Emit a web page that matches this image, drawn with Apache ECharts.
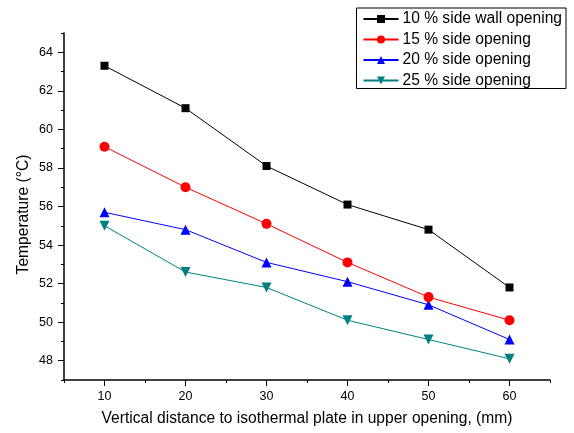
<!DOCTYPE html>
<html><head><meta charset="utf-8">
<script src="https://cdn.jsdelivr.net/npm/echarts@6/dist/echarts.min.js"></script>
<style>html,body{margin:0;padding:0;background:#fff}#c{width:574px;height:433px}</style>
</head><body><div id="c"></div>
<script>
const distances = [10, 20, 30, 40, 50, 60];
const seriesNames = ['10 % side wall opening', '15 % side opening', '20 % side opening', '25 % side opening'];
const open10 = [63.3, 61.1, 58.1, 56.1, 54.8, 51.8];
const open15 = [59.1, 57.0, 55.1, 53.1, 51.3, 50.1];
const open20 = [55.7, 54.8, 53.1, 52.1, 50.9, 49.1];
const open25 = [55.0, 52.6, 51.8, 50.1, 49.1, 48.1];
const xMajorTicks = [10, 20, 30, 40, 50, 60];
const yMajorTicks = [48, 50, 52, 54, 56, 58, 60, 62, 64];

const colors = ['#000000', '#ff0000', '#0000ff', '#008080'];
const symbols = ['rect', 'circle', 'triangle', 'path://M0,0 L10,0 L5,10 Z'];
const sizes = [8, 10, 10, 10];
const values = [open10, open15, open20, open25];
const font = 'Arial, "Liberation Sans", sans-serif';

const chart = echarts.init(document.getElementById('c'));
chart.setOption({
  animation: false,
  grid: { left: 64, top: 33, right: 24, bottom: 53 },
  legend: {
    orient: 'vertical', right: 8, top: 8,
    data: seriesNames,
    borderColor: '#000', borderWidth: 1, padding: [3, 4, 0, 6],
    itemWidth: 35, itemHeight: 10, itemGap: 4.5,
    textStyle: { fontFamily: font, fontSize: 15.6, color: '#000', padding: [0, 0, 0, -1] },
    backgroundColor: '#fff'
  },
  xAxis: [
    {
      type: 'value', min: 5, max: 65, interval: 5,
      name: 'Vertical distance to isothermal plate in upper opening, (mm)',
      nameLocation: 'middle', nameGap: 31,
      nameTextStyle: { fontFamily: font, fontSize: 15.6, color: '#000' },
      axisLine: { show: true, lineStyle: { color: '#000', width: 1.5 } },
      axisTick: { show: true, inside: false, length: 3, lineStyle: { color: '#000' } },
      axisLabel: { fontFamily: font, fontSize: 12.5, color: '#000', margin: 10,
        formatter: v => (v % 10 === 0 ? String(v) : '') },
      splitLine: { show: false }
    },
    {
      type: 'value', min: 5, max: 65, position: 'bottom',
      axisLine: { show: false },
      axisTick: { show: true, length: 6, customValues: xMajorTicks, lineStyle: { color: '#000' } },
      axisLabel: { show: false },
      splitLine: { show: false }
    }
  ],
  yAxis: [
    {
      type: 'value', min: 47, max: 65, interval: 1,
      name: 'Temperature (°C)',
      nameLocation: 'middle', nameGap: 32, nameMoveOverlap: false,
      nameTextStyle: { fontFamily: font, fontSize: 15.6, color: '#000', padding: [0, 16, 0, 0] },
      axisLine: { show: true, lineStyle: { color: '#000', width: 1.5 } },
      axisTick: { show: true, length: 3, lineStyle: { color: '#000' } },
      axisLabel: { fontFamily: font, fontSize: 12.5, color: '#000', margin: 11,
        formatter: v => (v % 2 === 0 ? String(v) : '') },
      splitLine: { show: false }
    },
    {
      type: 'value', min: 47, max: 65, position: 'left',
      axisLine: { show: false },
      axisTick: { show: true, length: 6, customValues: yMajorTicks, lineStyle: { color: '#000' } },
      axisLabel: { show: false },
      splitLine: { show: false }
    }
  ],
  series: seriesNames.map((n, i) => ({
    name: n, type: 'line',
    xAxisIndex: 0, yAxisIndex: 0,
    data: distances.map((d, k) => [d, values[i][k]]),
    symbol: symbols[i], symbolSize: sizes[i],
    itemStyle: { color: colors[i] },
    lineStyle: { color: colors[i], width: 1 },
    z: 10 - i
  }))
});
</script></body></html>
